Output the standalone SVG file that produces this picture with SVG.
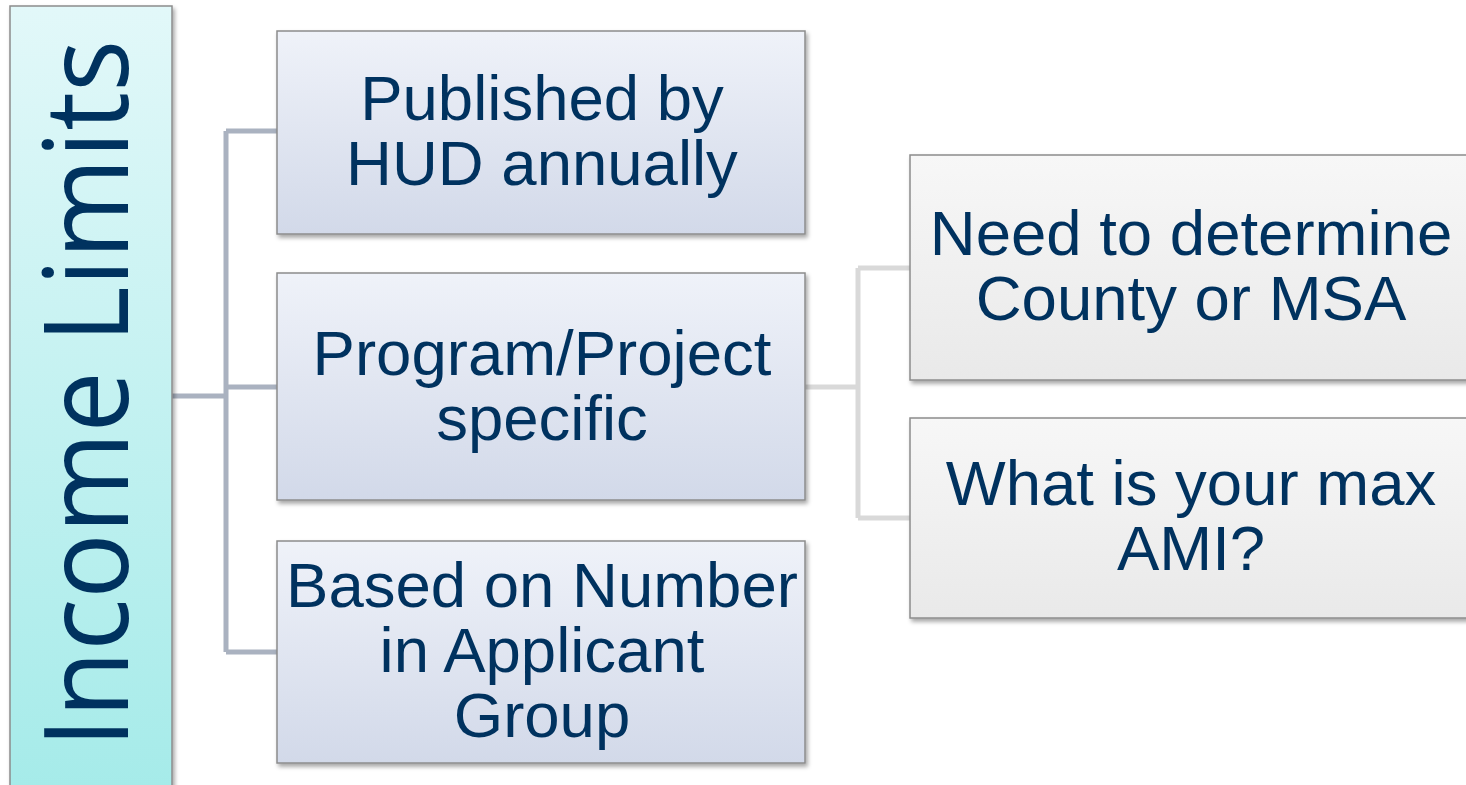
<svg xmlns="http://www.w3.org/2000/svg" width="1466" height="785" viewBox="0 0 1466 785">
<defs>
<linearGradient id="gRoot" x1="0" y1="0" x2="0" y2="1"><stop offset="0" stop-color="#e2f8f9"/><stop offset="1" stop-color="#a5ebe9"/></linearGradient>
<linearGradient id="gBlue" x1="0" y1="0" x2="0" y2="1"><stop offset="0" stop-color="#eff2f9"/><stop offset="1" stop-color="#d2d9e9"/></linearGradient>
<linearGradient id="gGray" x1="0" y1="0" x2="0" y2="1"><stop offset="0" stop-color="#f7f7f7"/><stop offset="1" stop-color="#e9e9e9"/></linearGradient>
<filter id="sh" x="-5%" y="-5%" width="115%" height="115%"><feDropShadow dx="2" dy="3" stdDeviation="2" flood-color="#000" flood-opacity="0.35"/></filter>
<style>
.box{stroke:#8c8c8c;stroke-width:1.5;filter:url(#sh)}
.t{font-family:"Liberation Sans",Arial,sans-serif;font-size:63.5px;fill:#00325f;text-anchor:middle}
.c1{fill:none;stroke:#aab2c0;stroke-width:5}
.c2{fill:none;stroke:#d9d9d9;stroke-width:5}
</style>
</defs>
<rect width="1466" height="785" fill="#ffffff"/>
<g id="connectors">
<path class="c1" d="M172,396 H226 M226,131 V652 M226,131 H277 M226,387 H277 M226,652 H277"/>
<path class="c2" d="M805,387 H858 M858,268 V518 M858,268 H910 M858,518 H910"/>
</g>
<g id="root">
<rect class="box" x="10" y="6" width="162" height="790" fill="url(#gRoot)"/>
<text transform="translate(128,394) rotate(-90)" x="0" y="0" style="font-family:'Open Sans','DejaVu Sans',sans-serif;font-size:118px;fill:#00325f;text-anchor:middle" textLength="708" lengthAdjust="spacingAndGlyphs">Income Limits</text>
</g>
<g id="n1">
<rect class="box" x="277" y="31" width="528" height="203" fill="url(#gBlue)"/>
<text class="t" x="542" y="120">Published by</text>
<text class="t" x="542" y="185">HUD annually</text>
</g>
<g id="n2">
<rect class="box" x="277" y="273" width="528" height="227" fill="url(#gBlue)"/>
<text class="t" x="542" y="375">Program/Project</text>
<text class="t" x="542" y="440">specific</text>
</g>
<g id="n3">
<rect class="box" x="277" y="541" width="528" height="222" fill="url(#gBlue)"/>
<text class="t" x="542" y="607">Based on Number</text>
<text class="t" x="542" y="672">in Applicant</text>
<text class="t" x="542" y="737">Group</text>
</g>
<g id="n4">
<rect class="box" x="910" y="155" width="570" height="225" fill="url(#gGray)"/>
<text class="t" x="1191" y="255">Need to determine</text>
<text class="t" x="1191" y="320">County or MSA</text>
</g>
<g id="n5">
<rect class="box" x="910" y="418" width="570" height="200" fill="url(#gGray)"/>
<text class="t" x="1191" y="505">What is your max</text>
<text class="t" x="1191" y="570">AMI?</text>
</g>
</svg>
